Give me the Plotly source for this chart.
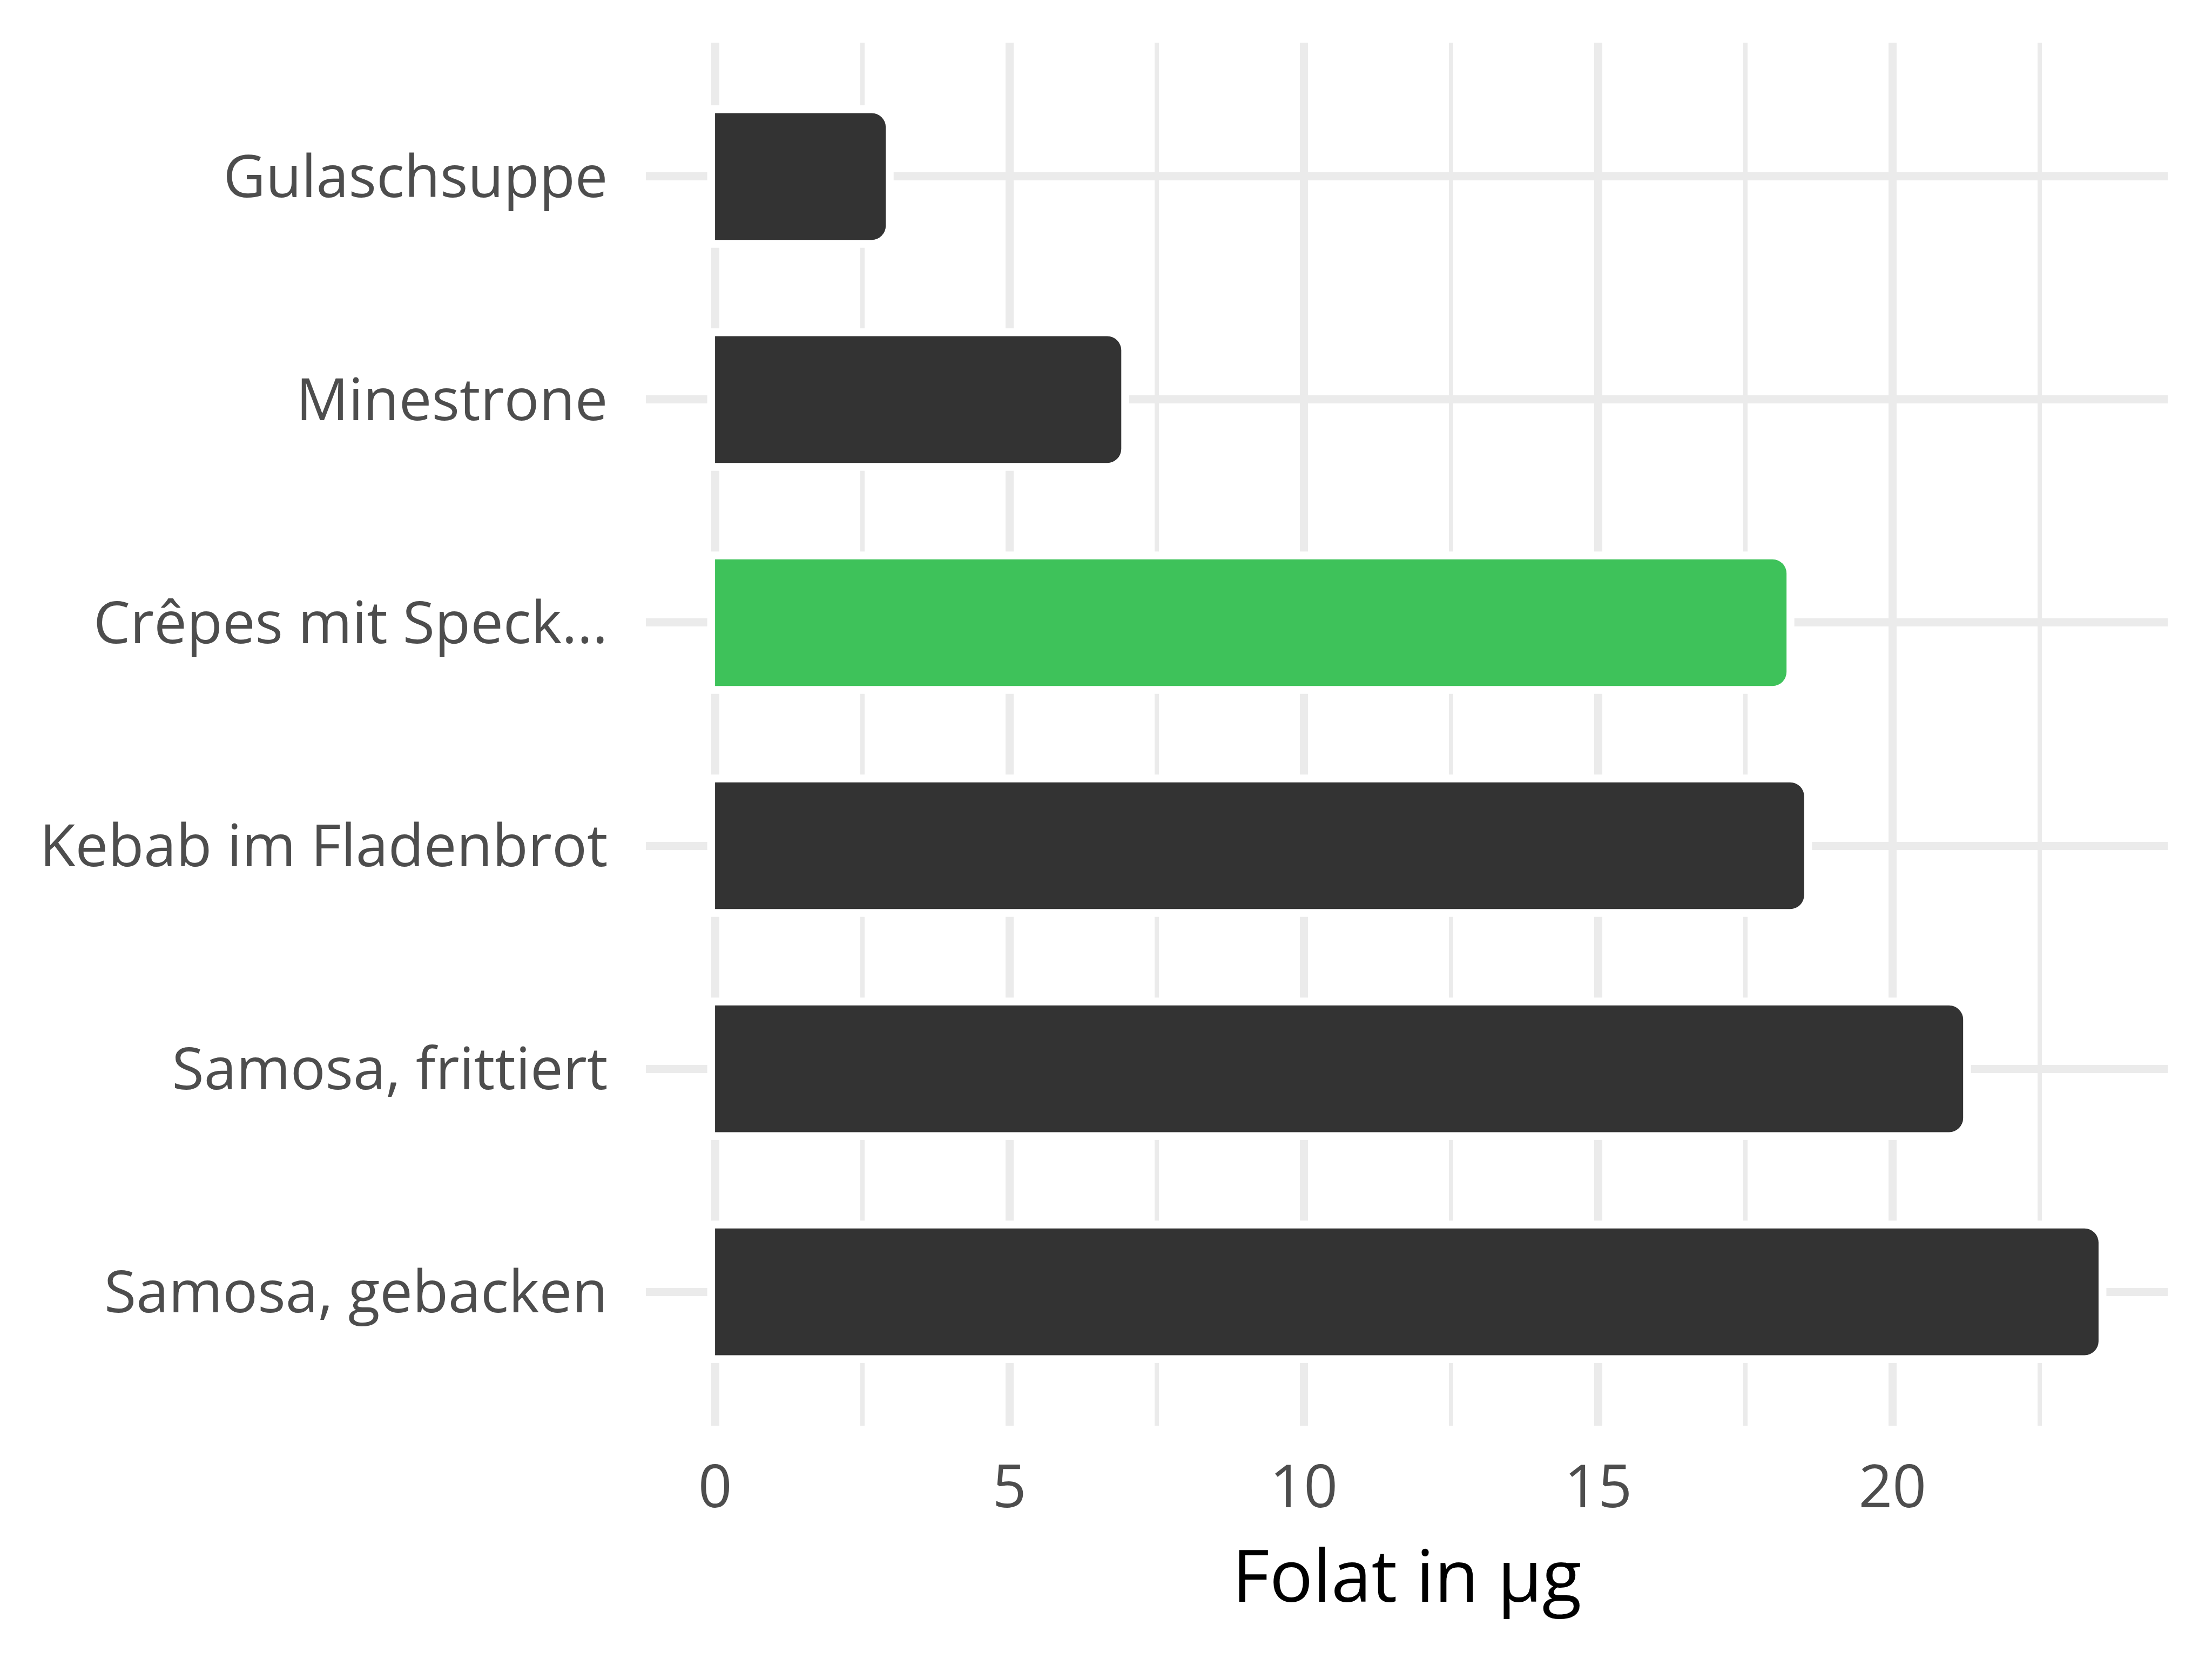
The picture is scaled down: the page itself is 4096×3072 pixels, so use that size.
import plotly.graph_objects as go

categories = ["Gulaschsuppe", "Minestrone", "Crêpes mit Speck...", "Kebab im Fladenbrot",
              "Samosa, frittiert", "Samosa, gebacken"]
values = [2.9, 6.9, 18.2, 18.5, 21.2, 23.5]
highlight = "Crêpes mit Speck..."
x_ticks = [0, 5, 10, 15, 20]
x_label = "Folat in µg"

DARK = "#333333"
GREEN = "#3EC25A"
GRID = "#EBEBEB"
colors = [GREEN if c == highlight else DARK for c in categories]

W, H = 4096, 3072
FONT = "Open Sans"

fig = go.Figure()
# white halo underneath (cuts the gridlines around each bar)
fig.add_trace(go.Bar(
    y=categories, x=values, orientation="h", width=0.568,
    marker=dict(color="white", line=dict(color="white", width=29), cornerradius=26),
    hoverinfo="skip", showlegend=False,
))
fig.add_trace(go.Bar(
    y=categories, x=values, orientation="h", width=0.568,
    marker=dict(color=colors, line=dict(width=0), cornerradius=26),
    showlegend=False,
))

xmax = max(values)
pad = 0.05 * xmax
fig.update_layout(
    width=W, height=H,
    barmode="overlay",
    paper_bgcolor="white", plot_bgcolor="white",
    margin=dict(l=1196, r=82, t=79, b=432),
    font=dict(family=FONT, color="#4D4D4D"),
    xaxis=dict(
        range=[-pad, xmax + pad],
        tickvals=x_ticks, ticktext=[str(t) for t in x_ticks],
        showgrid=True, gridcolor=GRID, gridwidth=14.5,
        minor=dict(dtick=2.5, tick0=0, showgrid=True, gridcolor=GRID, gridwidth=7.7),
        zeroline=False, showline=False,
        ticks="outside", ticklen=18, tickcolor="rgba(0,0,0,0)",
        tickfont=dict(size=110, color="#4D4D4D", family=FONT),
        title=dict(text=x_label, font=dict(size=134, color="black", family=FONT), standoff=38),
    ),
    yaxis=dict(
        categoryorder="array", categoryarray=categories[::-1],
        range=[-0.6, len(categories) - 0.4],
        showgrid=True, gridcolor=GRID, gridwidth=14.5,
        zeroline=False, showline=False,
        ticks="outside", ticklen=48, tickcolor="rgba(0,0,0,0)",
        tickfont=dict(size=108, color="#4D4D4D", family=FONT),
    ),
)

fig.write_html("out.html", config={"displayModeBar": False},
               post_script="document.body.style.margin='0';")
